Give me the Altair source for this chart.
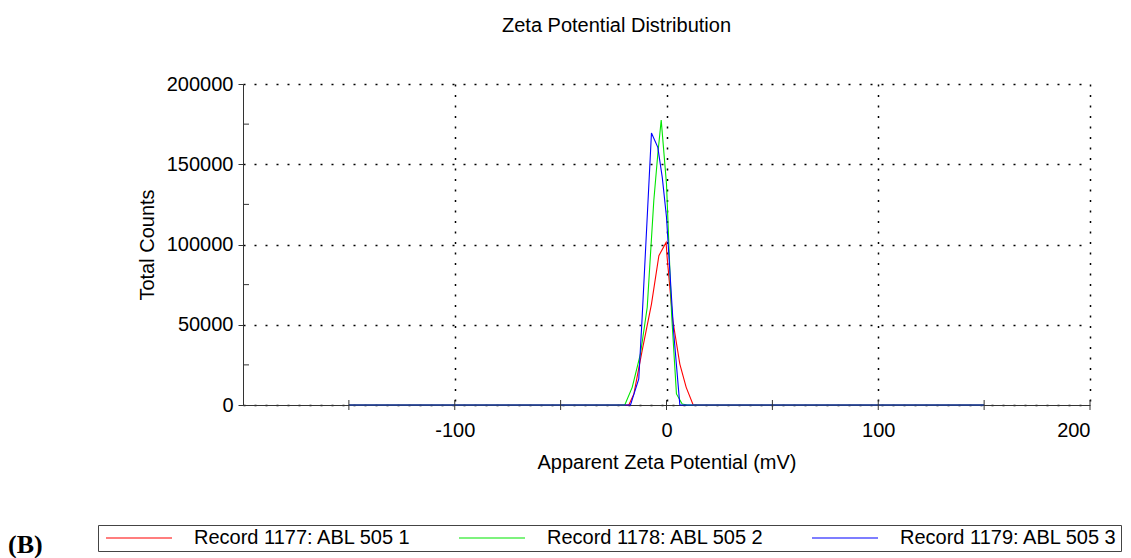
import altair as alt
import pandas as pd

series_names = ["Record 1177: ABL 505 1", "Record 1178: ABL 505 2", "Record 1179: ABL 505 3"]
series_colors = ["#ff0000", "#00e600", "#0000ff"]

red_x = [-150, -17.8, -15.4, -11.5, -7.1, -3.6, -0.2, 0.3, 3.0, 6.3, 9.3, 12.6, 150]
red_y = [0, 0, 6900, 33900, 62900, 93000, 101300, 92000, 52500, 25500, 11000, 0, 0]

green_x = [-150, -19.7, -16.2, -12.3, -9.1, -6.0, -4.1, -2.5, 0.0, 2.4, 4.7, 7.4, 9.8, 150]
green_y = [0, 0, 11000, 31800, 60900, 127300, 156400, 177500, 137700, 56700, 6900, 600, 0, 0]

blue_x = [-150, -17.0, -13.1, -11.5, -7.1, -4.1, -2.0, 0.0, 3.4, 6.3, 150]
blue_y = [0, 0, 16200, 54600, 169500, 160500, 141800, 117000, 45000, 0, 0]

x_label_values = [-100, 0, 100, 200]
x_tick_values = [-150, -100, -50, 0, 50, 100, 150, 200]
y_label_values = [0, 50000, 100000, 150000, 200000]
y_minor_values = [25000, 75000, 125000, 175000]

chart_title = "Zeta Potential Distribution"
panel_label = "(B)"

rows = []
for name, xs, ys in zip(series_names, [red_x, green_x, blue_x], [red_y, green_y, blue_y]):
    for i, (xv, yv) in enumerate(zip(xs, ys)):
        rows.append({"series": name, "mv": xv, "counts": yv, "order": i})
df = pd.DataFrame(rows)

W, H = 847, 321
FONT = "Liberation Sans"

xscale = alt.Scale(domain=[-200, 200], nice=False, zero=False)
yscale = alt.Scale(domain=[0, 200000], nice=False)

lines = alt.Chart(df).mark_line(strokeWidth=1.1).encode(
    x=alt.X("mv:Q", scale=xscale,
            axis=alt.Axis(values=x_label_values, title="Apparent Zeta Potential (mV)",
                          ticks=False, grid=True, gridDash=[2, 8.5], gridColor="#000",
                          gridWidth=1.5, labelPadding=15, titlePadding=12,
                          labelExpr="'' + datum.value")),
    y=alt.Y("counts:Q", scale=yscale,
            axis=alt.Axis(values=y_label_values, title="Total Counts", tickSize=5,
                          grid=True, gridDash=[2, 9], gridColor="#000", gridWidth=1.5,
                          labelPadding=5, titlePadding=9,
                          labelExpr="'' + datum.value")),
    color=alt.Color("series:N", scale=alt.Scale(domain=series_names, range=series_colors),
                    legend=alt.Legend(title=None, orient="none", legendX=-145, legendY=441,
                                      direction="horizontal", columns=3,
                                      symbolType="M-1,0H12.2", symbolSize=100,
                                      symbolStrokeWidth=2, symbolOpacity=0.5,
                                      labelFont=FONT, labelFontSize=20, labelOffset=73,
                                      columnPadding=42, padding=3, strokeColor="#444",
                                      fillColor="white", labelLimit=400, gridAlign="all",
                                      labelColor="#000")),
    order="order:Q",
)

xt_df = pd.DataFrame({"mv": x_tick_values})
x_ticks = alt.Chart(xt_df).mark_rule(color="#333", strokeWidth=1).encode(
    x=alt.X("mv:Q", scale=xscale),
    y=alt.value(H - 5),
    y2=alt.value(H + 5),
)

ym_df = pd.DataFrame({"counts": y_minor_values})
y_minor = alt.Chart(ym_df).mark_rule(color="#333", strokeWidth=1).encode(
    y=alt.Y("counts:Q", scale=yscale),
    x=alt.value(0),
    x2=alt.value(6),
)

title_mark = alt.Chart(pd.DataFrame({"t": [chart_title]})).mark_text(
    font=FONT, fontSize=20, align="center", baseline="alphabetic", color="#000",
    x=W / 2 - 50, y=-52,
).encode(text="t:N")

panel = alt.Chart(pd.DataFrame({"t": [panel_label]})).mark_text(
    font="Liberation Serif", fontSize=26, fontWeight="bold", align="left",
    baseline="alphabetic", color="#000", x=-235, y=469,
).encode(text="t:N")

chart = alt.layer(lines, x_ticks, y_minor, title_mark, panel).properties(
    width=W, height=H,
    autosize=alt.AutoSizeParams(type="none"),
    padding={"left": 243, "top": 84, "right": 41, "bottom": 153},
).configure_view(stroke=None).configure_axis(
    domainColor="#333", domainWidth=1, tickColor="#333", labelFont=FONT, labelFontSize=20,
    labelColor="#000", titleFont=FONT, titleFontSize=20, titleFontWeight="normal",
    titleColor="#000",
)

chart.save("out.html", embed_options={"renderer": "svg", "actions": False})
